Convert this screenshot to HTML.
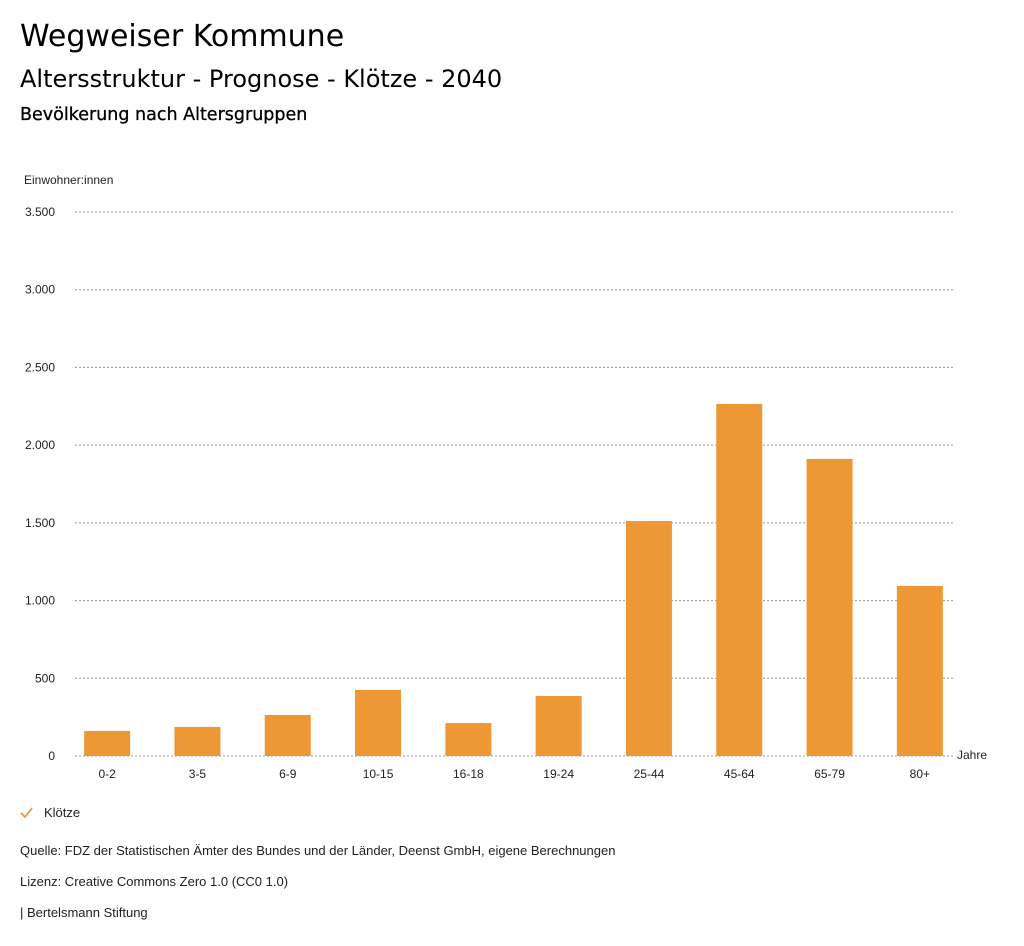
<!DOCTYPE html>
<html><head><meta charset="utf-8"><style>
body{margin:0;background:#fff;font-family:"Liberation Sans",sans-serif;color:#000;}
.t1{position:absolute;left:20px;top:19px;font-size:30px;font-family:"DejaVu Sans",sans-serif;}
.t2{position:absolute;left:20px;top:65px;font-size:24px;font-family:"DejaVu Sans",sans-serif;}
.t3{position:absolute;left:20px;top:105px;font-size:17.5px;font-family:"DejaVu Sans",sans-serif;font-weight:500;-webkit-text-stroke:0.3px #000;}
.f{position:absolute;left:20px;font-size:13px;color:#222;}
</style></head><body>
<div class="t1">Wegweiser Kommune</div>
<div class="t2">Altersstruktur - Prognose - Klötze - 2040</div>
<div class="t3">Bevölkerung nach Altersgruppen</div>
<svg id="c" width="1024" height="946" style="position:absolute;left:0;top:0"></svg>
<div class="f" style="top:843px">Quelle: FDZ der Statistischen Ämter des Bundes und der Länder, Deenst GmbH, eigene Berechnungen</div>
<div class="f" style="top:874px">Lizenz: Creative Commons Zero 1.0 (CC0 1.0)</div>
<div class="f" style="top:905px">| Bertelsmann Stiftung</div>
<script>
const categories=["0-2","3-5","6-9","10-15","16-18","19-24","25-44","45-64","65-79","80+"];
const values=[161,187,264,425,212,386,1512,2265,1911,1094];
const ticks=[0,500,1000,1500,2000,2500,3000,3500];
const tickLabels=["0","500","1.000","1.500","2.000","2.500","3.000","3.500"];
const svg=document.getElementById('c');
const NS="http://www.w3.org/2000/svg";
const y0=756,yTop=212,maxV=3500;
const y=v=>y0-(v/maxV)*(y0-yTop);
const bandStart=62,band=90.3,bw=46;
const x=i=>bandStart+band*i+band/2;
function mk(t,a,txt){const e=document.createElementNS(NS,t);for(const k in a)e.setAttribute(k,a[k]);if(txt!=null)e.textContent=txt;svg.appendChild(e);return e;}
ticks.forEach((t,i)=>{
 const l=mk('line',{x1:75,x2:953,y1:y(t),y2:y(t),stroke:'#999','stroke-dasharray':'2,2','stroke-width':1});
 
 
 const tx=mk('text',{x:55,y:y(t)+4,'text-anchor':'end','font-size':12,fill:'#222'},tickLabels[i]);
 
 
});
const yt=mk('text',{x:24,y:184,'font-size':12,fill:'#222'},'Einwohner:innen');


const xt=mk('text',{x:957,y:759,'font-size':12,fill:'#222'},'Jahre');


categories.forEach((c,i)=>{
 const r=mk('rect',{x:x(i)-bw/2,y:y(values[i]),width:bw,height:y0-y(values[i]),fill:'#ee9835'});
 
 
 const t=mk('text',{x:x(i),y:778,'text-anchor':'middle','font-size':12,fill:'#222'},c);
 
 
});
const chk=mk('path',{d:'M21 813 L25 817 L32 808',stroke:'#ee9835','stroke-width':1.8,fill:'none'});


const lg=mk('text',{x:44,y:817,'font-size':13,fill:'#222'},'Klötze');


</script>
</body></html>
